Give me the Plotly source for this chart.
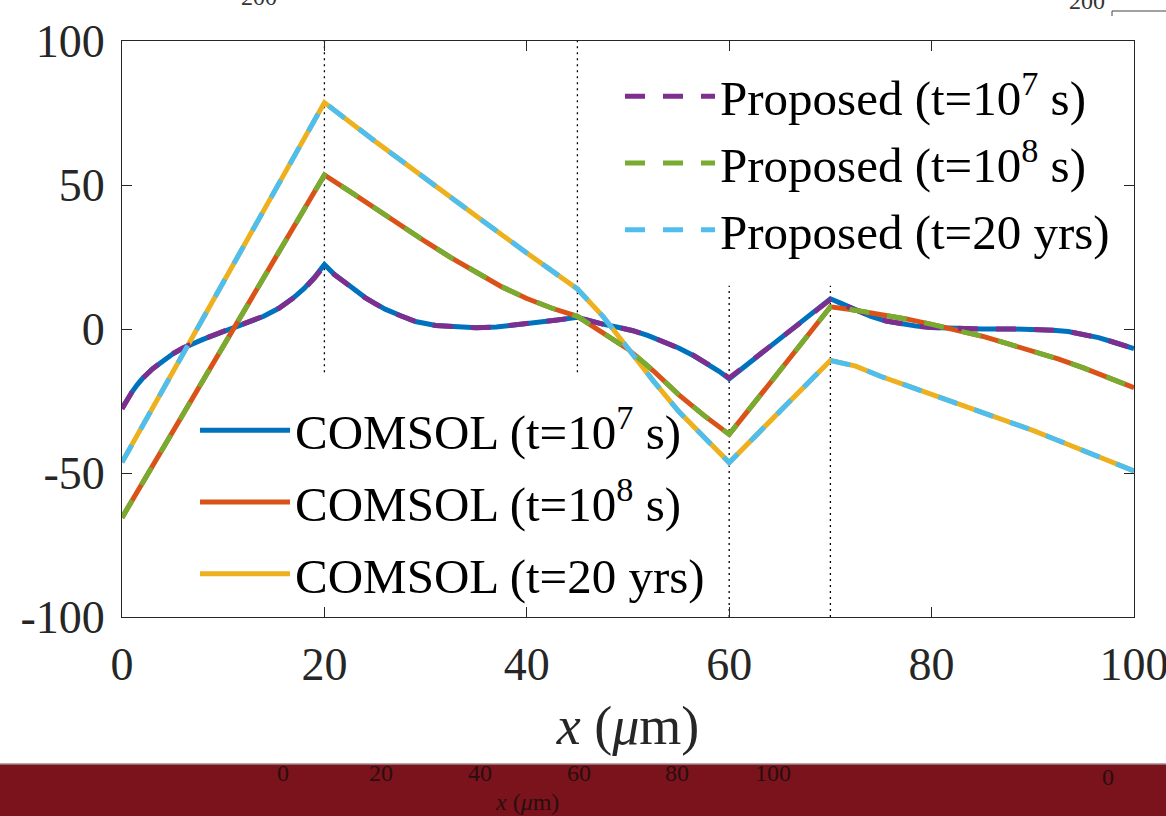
import plotly.graph_objects as go

# Position along the device (um) and potential for each case
x_1e7 = [0, 0.5, 1, 1.5, 2, 3, 4, 5, 6, 7, 8, 9.5, 11, 12.5, 14, 15.5, 17, 18, 19, 20,
         21, 22, 23, 24, 25, 26, 27.5, 29, 31, 33, 35, 37, 39, 41, 43, 45,
         46, 47.5, 49, 50.5, 52, 53.5, 55, 56.5, 58, 59, 60,
         62.5, 65, 67.5, 70, 71, 72, 73, 74, 75.5, 77, 78.5, 80, 82, 85, 88, 90, 92, 93.5,
         95, 96.5, 98, 99, 100]
comsol_1e7 = [-27.5, -24.5, -21.8, -19.4, -17.3, -13.9, -11.1, -8.7, -6.7, -5.1, -3.6, -1.6, 0.3,
              2.2, 4.4, 7.2, 11.0, 14.1, 17.9, 22.4,
              18.9, 16.3, 13.5, 11.0, 8.9, 6.9, 4.7, 2.6, 1.2, 0.6, 0.4, 0.7, 1.4, 2.2, 3.1, 4.1,
              3.0, 1.7, 0.6, -0.6, -2.3, -4.3, -6.6, -9.3, -12.3, -14.7, -17.3,
              -10.3, -3.4, 3.6, 10.5, 9.0, 7.6, 6.0, 4.4, 2.8, 1.7, 1.0, 0.5, 0.2, 0.0, 0.0, -0.1,
              -0.4, -0.9, -1.8, -3.0, -4.6, -5.7, -6.8]
proposed_1e7 = [-27.8, -24.6, -21.8, -19.4, -17.3, -13.9, -11.0, -8.6, -6.6, -5.0, -3.5, -1.5, 0.4,
                2.3, 4.5, 7.2, 10.9, 13.9, 17.6, 22.0,
                18.8, 16.2, 13.4, 10.9, 8.8, 6.8, 4.6, 2.6, 1.2, 0.6, 0.4, 0.7, 1.4, 2.2, 3.1, 4.0,
                3.0, 1.7, 0.6, -0.6, -2.3, -4.3, -6.6, -9.2, -12.2, -14.5, -17.0,
                -10.2, -3.4, 3.5, 10.2, 8.9, 7.5, 5.9, 4.4, 2.8, 1.7, 1.0, 0.5, 0.2, 0.0, 0.0, -0.1,
                -0.4, -0.9, -1.8, -3.0, -4.6, -5.7, -6.8]

x_1e8 = [0, 5, 10, 15, 20, 22.5, 25, 27.5, 30, 32.5, 35, 37.5, 40, 42.5, 45,
         47.5, 50, 52.5, 55, 57.5, 60, 65, 70, 72, 75, 77.5, 80, 82.5, 85, 87.5, 90, 92.5,
         95, 97.5, 100]
comsol_1e8 = [-65.5, -35.8, -6.0, 23.8, 53.5, 47.8, 41.8, 35.8, 30.3, 24.8, 19.6, 14.7, 10.6, 7.2,
              4.4, -1.2, -7.0, -14.5, -22.8, -30.0, -36.6, -14.5, 7.7, 6.8, 5.2, 3.5, 1.6, -0.3,
              -2.5, -5.1, -7.7, -10.4, -13.5, -16.8, -20.4]
proposed_1e8 = [-65.5, -35.8, -6.0, 23.8, 53.5, 47.8, 41.8, 35.8, 30.3, 24.8, 19.6, 14.7, 10.6, 7.2,
                4.4, -1.2, -7.0, -14.5, -22.8, -30.0, -36.6, -14.5, 7.7, 6.8, 5.2, 3.5, 1.6, -0.3,
                -2.5, -5.1, -7.7, -10.4, -13.5, -16.8, -20.4]

x_20y = [0, 5, 10, 15, 20, 25, 30, 35, 40, 45, 47.5, 50, 52.5, 55, 57.5, 60, 65, 70,
         72.5, 75, 77.5, 80, 82.5, 85, 87.5, 90, 92.5, 95, 97.5, 100]
comsol_20y = [-46.3, -15.1, 16.1, 47.4, 78.6, 65.2, 52.0, 39.2, 26.4, 13.9, 4.5, -7.1, -18.0,
              -28.6, -37.3, -46.4, -28.6, -10.9, -12.9, -16.5, -19.6, -22.7, -25.7, -28.8,
              -31.9, -35.2, -38.7, -42.3, -45.8, -49.3]
proposed_20y = [-46.3, -15.1, 16.1, 47.4, 78.6, 65.2, 52.0, 39.2, 26.4, 13.9, 4.5, -7.1, -18.0,
                -28.6, -37.3, -46.4, -28.6, -10.9, -12.9, -16.5, -19.6, -22.7, -25.7, -28.8,
                -31.9, -35.2, -38.7, -42.3, -45.8, -49.3]

comsol_names = ["COMSOL (t=10<sup>7</sup> s)", "COMSOL (t=10<sup>8</sup> s)", "COMSOL (t=20 yrs)"]
proposed_names = ["Proposed (t=10<sup>7</sup> s)", "Proposed (t=10<sup>8</sup> s)", "Proposed (t=20 yrs)"]
comsol_colors = ["#0072BD", "#D95319", "#EDB120"]
proposed_colors = ["#7E2F8E", "#77AC30", "#4DBEEE"]

# Interface positions (um) with the y extent of each marker line
interfaces = [20, 45, 60, 70]
interface_spans = [(-15, 100), (-15, 100), (-100, 15), (-100, 15)]

xticks = [0, 20, 40, 60, 80, 100]
yticks = [-100, -50, 0, 50, 100]
ytick_text = ["-100", "-50", "0", "50", "100"]

SERIF = "Liberation Serif"

fig = go.Figure()

xs = [x_1e7, x_1e8, x_20y]
for name, xv, ys, col in zip(comsol_names, xs, [comsol_1e7, comsol_1e8, comsol_20y], comsol_colors):
    fig.add_trace(go.Scatter(x=xv, y=ys, mode="lines", name=name, legend="legend",
                             legendgroup=name, line=dict(color=col, width=5)))

for name, xv, ys, col in zip(proposed_names, xs, [proposed_1e7, proposed_1e8, proposed_20y], proposed_colors):
    fig.add_trace(go.Scatter(x=xv, y=ys, mode="lines", name=name, legend="legend2",
                             line=dict(color=col, width=5, dash="20px,18px")))

shapes = []
for xv, (y0, y1) in zip(interfaces, interface_spans):
    shapes.append(dict(type="line", xref="x", yref="y", x0=xv, x1=xv, y0=y0, y1=y1,
                       line=dict(color="black", width=1.3, dash="2px,4px"), layer="below"))

# Neighbouring panel strip along the bottom edge
L, T, W, H = 122, 41, 1012, 576


def px(xp):
    return (xp - L) / W


def py(yp):
    return (T + H - yp) / H


shapes.append(dict(type="rect", xref="paper", yref="paper", x0=px(-30), x1=px(1190),
                   y0=py(840), y1=py(764), fillcolor="#7A131C", line=dict(width=0), layer="above"))
shapes.append(dict(type="line", xref="paper", yref="paper", x0=px(-30), x1=px(1190),
                   y0=py(764), y1=py(764), line=dict(color="#a08a8a", width=1.5)))
# corner of the neighbouring axes at the top right
shapes.append(dict(type="line", xref="paper", yref="paper", x0=px(1112), x1=px(1190),
                   y0=py(11), y1=py(11), line=dict(color="#444", width=1)))
shapes.append(dict(type="line", xref="paper", yref="paper", x0=px(1112), x1=px(1112),
                   y0=py(11), y1=py(16), line=dict(color="#444", width=1)))

annotations = []
small_font = dict(family=SERIF, size=24, color="#2a0d10")
for lab, xp in zip(["0", "20", "40", "60", "80", "100"], [283, 381, 480, 579, 677, 773]):
    annotations.append(dict(xref="paper", yref="paper", x=px(xp), y=py(773), text=lab,
                            showarrow=False, xanchor="center", yanchor="middle", font=small_font))
annotations.append(dict(xref="paper", yref="paper", x=px(527), y=py(802),
                        text="<i>x</i> (<i>μ</i>m)", showarrow=False, xanchor="center",
                        yanchor="middle", font=small_font))
annotations.append(dict(xref="paper", yref="paper", x=px(1108), y=py(777), text="0",
                        showarrow=False, xanchor="center", yanchor="middle", font=small_font))
top_font = dict(family=SERIF, size=24, color="#333")
annotations.append(dict(xref="paper", yref="paper", x=px(1087), y=py(1), text="200",
                        showarrow=False, xanchor="center", yanchor="middle", font=top_font))
annotations.append(dict(xref="paper", yref="paper", x=px(259), y=py(-3), text="200",
                        showarrow=False, xanchor="center", yanchor="middle", font=top_font))

axis_common = dict(showgrid=False, zeroline=False, showline=True, mirror="ticks",
                   linecolor="#262626", linewidth=1, ticks="inside", ticklen=10,
                   tickcolor="#262626", tickwidth=1, automargin=False,
                   ticklabeloverflow="allow",
                   tickfont=dict(family=SERIF, size=46, color="#262626"))

fig.update_layout(
    width=1166, height=816,
    margin=dict(l=L, r=1166 - L - W, t=T, b=816 - T - H),
    paper_bgcolor="white", plot_bgcolor="white",
    font=dict(family=SERIF, color="black"),
    xaxis=dict(range=[0, 100], tickvals=xticks, ticklabelstandoff=7,
               title=dict(text="<i>x</i> (<i>μ</i>m)", font=dict(family=SERIF, size=54, color="#262626"),
                          standoff=16),
               **axis_common),
    yaxis=dict(range=[-100, 100], tickvals=yticks, ticktext=ytick_text, ticklabelstandoff=7,
               **axis_common),
    legend=dict(x=px(195), y=py(392), xanchor="left", yanchor="top",
                bgcolor="rgba(0,0,0,0)", itemwidth=90, tracegroupgap=5,
                font=dict(family=SERIF, size=49, color="black")),
    legend2=dict(x=px(620), y=py(58), xanchor="left", yanchor="top",
                 bgcolor="rgba(0,0,0,0)", itemwidth=90,
                 font=dict(family=SERIF, size=49, color="black")),
    shapes=shapes,
    annotations=annotations,
)

fig.write_html("out.html")
